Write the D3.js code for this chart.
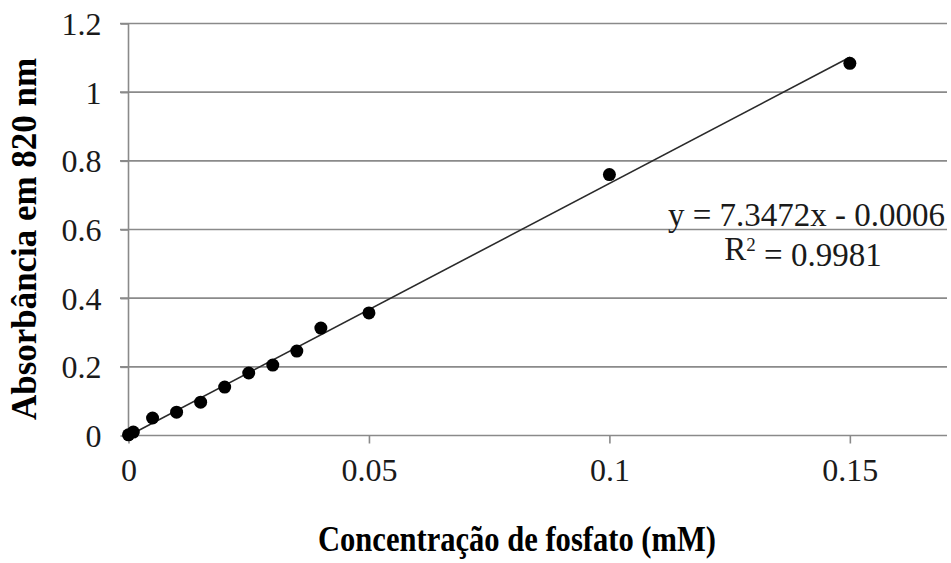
<!DOCTYPE html>
<html>
<head>
<meta charset="utf-8">
<script src="https://cdn.jsdelivr.net/npm/d3@7"></script>
<style>
  body { margin: 0; background: #fff; }
  svg { display: block; }
  text { font-family: "Liberation Serif", "Times New Roman", serif; }
  .tick-label { font-size: 32px; fill: #1a1a1a; }
  .title { font-size: 35px; font-weight: bold; fill: #000; }
  .eq { font-size: 33px; fill: #1a1a1a; }
</style>
</head>
<body>
<svg width="951" height="563"></svg>
<script>
// **** data ****
const concentration = [0, 0.001, 0.005, 0.01, 0.015, 0.02, 0.025, 0.03, 0.035, 0.04, 0.05, 0.1, 0.15];
const absorbance = [0.002, 0.01, 0.051, 0.068, 0.097, 0.141, 0.182, 0.205, 0.246, 0.313, 0.357, 0.760, 1.084];
const xTicks = [0, 0.05, 0.1, 0.15];
const yTicks = [0, 0.2, 0.4, 0.6, 0.8, 1, 1.2];
const slope = 7.3472;
const intercept = -0.0006;
const equationText = 'y = 7.3472x - 0.0006';
const r2Value = '0.9981';

// **** scales ****
var xScale = d3.scaleLinear()
    .domain([0, 0.1702]).range([128.5, 947]);

var yScale = d3.scaleLinear()
    .domain([0, 1.2]).range([435.5, 23.5]);

var svg = d3.select('svg');

// gridlines
svg.append('g').attr('class', 'grid')
    .selectAll('line')
    .data(yTicks.filter(d => d > 0))
    .enter()
    .append('line')
    .attr('x1', 120).attr('x2', 947)
    .attr('y1', d => yScale(d)).attr('y2', d => yScale(d))
    .style('stroke', '#8a8a8a')
    .style('stroke-width', 1.6);

// y axis
const yAxis = svg.append('g').attr('class', 'y axis')
    .attr('transform', 'translate(128.5,0)')
    .call(d3.axisLeft(yScale).tickValues(yTicks).tickSize(8).tickPadding(19)
        .tickFormat(d => d3.format('')(d)));

// x axis
const xAxis = svg.append('g').attr('class', 'x axis')
    .attr('transform', 'translate(0,435.5)')
    .call(d3.axisBottom(xScale).tickValues(xTicks).tickSize(8).tickPadding(14)
        .tickFormat(d => d3.format('')(d)));

svg.selectAll('.axis path, .axis line')
    .style('stroke', '#8a8a8a')
    .style('stroke-width', 1.6);
svg.selectAll('.axis text')
    .attr('class', 'tick-label')
    .style('font-family', '"Liberation Serif", serif');
yAxis.selectAll('text').attr('dy', '0.34em');
xAxis.selectAll('text').attr('dy', '0.74em');
// x axis line runs to the edge, without the end caps
xAxis.select('path').attr('d', `M${xScale.range()[0]},0H947`);
yAxis.select('path').attr('d', `M0,${yScale(1.2)}V${yScale(0)}`);

// trendline
const trend = d3.line()
    .x(d => xScale(d))
    .y(d => yScale(slope * d + intercept));

svg.append('path')
    .datum([0, d3.max(concentration)])
    .attr('d', trend)
    .style('fill', 'none')
    .style('stroke', '#2a2a2a')
    .style('stroke-width', 1.6);

// points
svg.append('g').attr('class', 'points')
    .selectAll('circle')
    .data(concentration)
    .enter()
    .append('circle')
    .attr('cx', d => xScale(d))
    .attr('cy', (d, i) => yScale(absorbance[i]))
    .attr('r', 6.5)
    .style('fill', '#000');

// equation label
svg.append('text')
    .attr('class', 'eq')
    .attr('text-anchor', 'end')
    .attr('transform', 'translate(945,226)')
    .text(equationText);

const r2 = svg.append('text')
    .attr('class', 'eq')
    .attr('text-anchor', 'middle')
    .attr('transform', 'translate(803,260)');
r2.append('tspan').text('R');
r2.append('tspan').attr('dy', '-0.45em').style('font-size', '19px').text('2');
r2.append('tspan').attr('dy', '0.45em').text(' = ' + r2Value);

// axis titles
svg.append('text')
    .attr('class', 'title')
    .attr('text-anchor', 'middle')
    .attr('transform', 'translate(517,551)')
    .attr('textLength', 398)
    .attr('lengthAdjust', 'spacingAndGlyphs')
    .text('Concentração de fosfato (mM)');

svg.append('text')
    .attr('class', 'title')
    .attr('text-anchor', 'middle')
    .attr('transform', 'translate(36,239) rotate(-90)')
    .attr('textLength', 362)
    .attr('lengthAdjust', 'spacingAndGlyphs')
    .text('Absorbância em 820 nm');
</script>
</body>
</html>
